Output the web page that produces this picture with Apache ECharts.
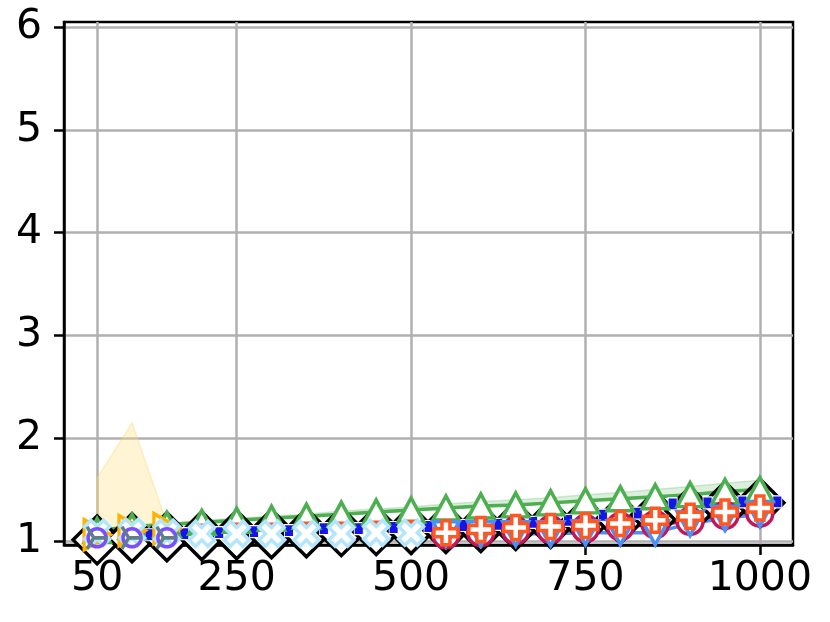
<!DOCTYPE html>
<html>
<head>
<meta charset="utf-8">
<script src="https://cdn.jsdelivr.net/npm/echarts@6/dist/echarts.min.js"></script>
<style>
html, body { margin: 0; padding: 0; background: #fff; }
#chart { width: 830px; height: 622px; }
</style>
</head>
<body>
<div id="chart"></div>
<script>
// tick labels
var xTicks = [50, 250, 500, 750, 1000];
var yTicks = [1, 2, 3, 4, 5, 6];

// x positions
var xAll = [50, 100, 150, 200, 250, 300, 350, 400, 450, 500, 550, 600, 650, 700, 750, 800, 850, 900, 950, 1000];
var xFew = [50, 100, 150];
var xLeft = [50, 100, 150, 200, 250, 300, 350, 400, 450, 500];
var xRight = [550, 600, 650, 700, 750, 800, 850, 900, 950, 1000];
var xBlue = [125, 175, 225, 275, 325, 375, 425, 475, 525, 575, 625, 675, 725, 775, 825, 875, 925, 975, 1025];

// series values
var diamondY = [1.01, 1.03, 1.04, 1.05, 1.06, 1.07, 1.08, 1.09, 1.10, 1.11, 1.12, 1.13, 1.15, 1.17, 1.19, 1.21, 1.25, 1.29, 1.34, 1.37];
var greenY = [1.10, 1.14, 1.16, 1.18, 1.20, 1.22, 1.24, 1.26, 1.28, 1.30, 1.32, 1.34, 1.35, 1.37, 1.39, 1.41, 1.43, 1.45, 1.48, 1.50];
var greenLow = [1.09, 1.13, 1.15, 1.17, 1.19, 1.21, 1.23, 1.25, 1.27, 1.29, 1.31, 1.33, 1.34, 1.36, 1.38, 1.40, 1.42, 1.44, 1.47, 1.49];
var greenHigh = [1.11, 1.15, 1.17, 1.20, 1.22, 1.24, 1.26, 1.29, 1.31, 1.33, 1.36, 1.38, 1.40, 1.42, 1.45, 1.47, 1.50, 1.53, 1.56, 1.59];
var tomatoY = [1.12, 1.13, 1.14, 1.13, 1.14, 1.14, 1.15, 1.15, 1.16, 1.17];
var blueY = [1.06, 1.07, 1.08, 1.09, 1.10, 1.12, 1.12, 1.13, 1.14, 1.15, 1.16, 1.18, 1.20, 1.25, 1.27, 1.36, 1.37, 1.38, 1.38];
var goldY = [1.06, 1.10, 1.12];
var goldLow = [0.51, 0.05, 1.07];
var goldHigh = [1.61, 2.15, 1.17];
var xMarkY = [1.08, 1.09, 1.08, 1.07, 1.07, 1.07, 1.07, 1.07, 1.08, 1.08];
var purpleY = [1.03, 1.03, 1.03];
var slateY = [1.03, 1.03, 1.03];
var crimsonY = [1.06, 1.08, 1.10, 1.11, 1.12, 1.14, 1.16, 1.19, 1.25, 1.27];
var cornY = [1.07, 1.07, 1.07, 1.07, 1.08, 1.08, 1.08, 1.17, 1.22, 1.26];
var plusY = [1.08, 1.11, 1.13, 1.14, 1.15, 1.17, 1.20, 1.24, 1.28, 1.32];

var FONT = 'DejaVu Sans';
var PLUS = 'path://M4,0 L8,0 L8,4 L12,4 L12,8 L8,8 L8,12 L4,12 L4,8 L0,8 L0,4 L4,4 Z';
var XMARK = 'path://M0,-2 L2,-4 L4,-2 L2,0 L4,2 L2,4 L0,2 L-2,4 L-4,2 L-2,0 L-4,-2 L-2,-4 Z';
var TRIRIGHT = 'path://M0,0 L2,1 L0,2 Z';
var TRISPOKE = 'path://M0,0 L10,0 M0,0 L-5,-8.66 M0,0 L-5,8.66';

function pairs(xs, ys) {
    return xs.map(function (x, i) { return [x, ys[i]]; });
}

// filled band between lo and hi, drawn as one polygon through the axes
function band(name, xs, lo, hi, fill, edge) {
    return {
        name: name, type: 'custom', clip: true, silent: true,
        data: [[xs[0], lo[0]]],
        renderItem: function (params, api) {
            var pts = [], i;
            for (i = 0; i < xs.length; i++) pts.push(api.coord([xs[i], hi[i]]));
            for (i = xs.length - 1; i >= 0; i--) pts.push(api.coord([xs[i], lo[i]]));
            return {
                type: 'polygon', shape: { points: pts },
                style: { fill: fill, stroke: edge, lineWidth: 1.5 }
            };
        }
    };
}

function marks(name, xs, ys, opt) {
    return {
        name: name, type: 'line', data: pairs(xs, ys),
        symbol: opt.symbol, symbolSize: opt.size, symbolRotate: opt.rotate || 0,
        showSymbol: true,
        lineStyle: { color: opt.line || opt.edge, width: opt.lineWidth === undefined ? 3.5 : opt.lineWidth,
            opacity: opt.lineWidth === 0 ? 0 : 1 },
        itemStyle: { color: opt.fill, borderColor: opt.edge, borderWidth: opt.border === undefined ? 3.5 : opt.border },
        silent: true
    };
}

var series = [
    band('goldBand', xFew, goldLow, goldHigh, 'rgba(255,224,130,0.35)', 'rgba(255,210,90,0.3)'),
    band('greenBand', xAll, greenLow, greenHigh, 'rgba(129,199,132,0.28)', 'rgba(129,199,132,0.35)'),
    marks('diamond', xAll, diamondY, { symbol: 'diamond', size: 48, fill: '#fff', edge: '#000', lineWidth: 3 }),
    marks('blue', xBlue, blueY, { symbol: 'rect', size: [9, 12], fill: '#1515e8', edge: '#fff', border: 1, lineWidth: 0 }),
    marks('green', xAll, greenY, { symbol: 'triangle', size: [26, 24], fill: '#fff', edge: '#4caf50' }),
    marks('tomato', xLeft, tomatoY, { symbol: 'triangle', rotate: 180, size: [11, 8], fill: '#ff5722', edge: '#ff5722', border: 0, lineWidth: 0 }),
    marks('gold', xFew, goldY, { symbol: TRIRIGHT, size: [26, 30], fill: '#fff', edge: '#ffb300' }),
    marks('xmark', xLeft, xMarkY, { symbol: XMARK, size: 25, fill: '#fff', edge: '#b3e5fc', line: '#b3e5fc' }),
    marks('purple', xFew, purpleY, { symbol: 'circle', size: 18, fill: 'rgba(255,255,255,0)', edge: '#7c4dff' }),
    marks('slate', xFew, slateY, { symbol: TRISPOKE, size: [20, 22], fill: 'rgba(0,0,0,0)', edge: '#607d8b' }),
    marks('crimson', xRight, crimsonY, { symbol: 'circle', size: 26, fill: '#fff', edge: '#c2185b' }),
    marks('corn', xRight, cornY, { symbol: 'triangle', rotate: 180, size: [26, 24], fill: '#fff', edge: '#4d8ff5' }),
    marks('plus', xRight, plusY, { symbol: PLUS, size: 24, fill: '#fff', edge: '#ff5722' })
];

var chart = echarts.init(document.getElementById('chart'), null, { renderer: 'canvas' });
chart.setOption({
    animation: false,
    backgroundColor: '#fff',
    grid: { left: 64, right: 37, top: 22, bottom: 77, show: true, borderColor: '#000', borderWidth: 2.5, backgroundColor: 'rgba(0,0,0,0)' },
    xAxis: {
        type: 'value', min: 2.5, max: 1047.5,
        axisLine: { show: true, onZero: false, lineStyle: { color: '#000', width: 2.5 } },
        axisTick: { show: true, length: 10, customValues: xTicks, lineStyle: { color: '#000', width: 2.5 } },
        axisLabel: { customValues: xTicks, fontSize: 41, fontFamily: FONT, color: '#000', margin: 14,
            formatter: function (v) { return String(v); } },
        splitLine: { show: true, lineStyle: { color: '#b0b0b0', width: 2.5 } }
    },
    yAxis: {
        type: 'value', min: 0.96, max: 6.05,
        axisLine: { show: true, onZero: false, lineStyle: { color: '#000', width: 2.5 } },
        axisTick: { show: true, length: 10, customValues: yTicks, lineStyle: { color: '#000', width: 2.5 } },
        axisLabel: { customValues: yTicks, fontSize: 41, fontFamily: FONT, color: '#000', margin: 22 },
        splitLine: { show: true, lineStyle: { color: '#b0b0b0', width: 2.5 } }
    },
    series: series
});
</script>
</body>
</html>
